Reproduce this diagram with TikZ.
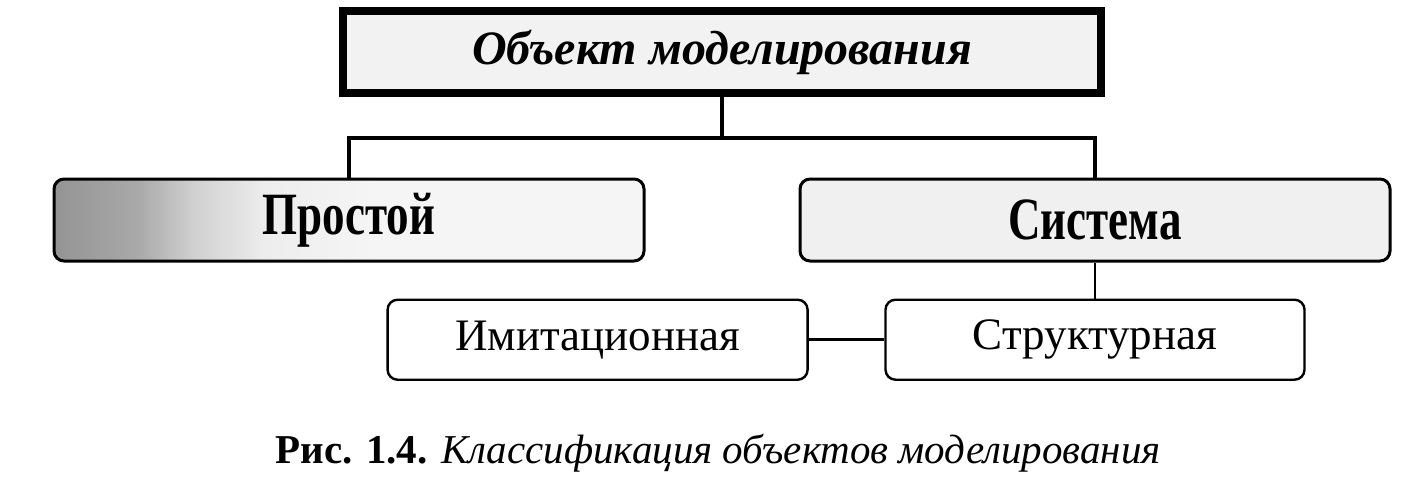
\documentclass[tikz,border=0pt]{standalone}
\usepackage{fontspec}
\setmainfont{Liberation Serif}
\newfontfamily\narrowserif[FakeStretch=0.75]{Liberation Serif}
\usetikzlibrary{positioning}
\pgfdeclarehorizontalshading{simpleshade}{100bp}{color(0bp)=(black!42); color(25bp)=(black!42); color(32bp)=(black!34); color(37bp)=(black!18); color(43bp)=(black!7); color(52bp)=(black!4); color(100bp)=(black!4)}

\begin{document}
\begin{tikzpicture}[x=0.5pt, y=-0.5pt]
	\tikzset{
	  wn/.style={draw, fill=white,
	             shape=rectangle,
	             line width=1.2pt,
	             minimum height=40pt,
	             rounded corners=5pt,
	             font=\fontsize{22.5}{24}\selectfont},
	  kind/.style={wn, line width=1.5pt,
	             minimum width=295pt, minimum height=41pt,
	             font=\fontsize{30}{32}\narrowserif\bfseries},
	  headbox/.style={draw, fill=black!5, shape=rectangle,
	             line width=4pt,
	             minimum width=379pt, minimum height=41pt,
	             font=\fontsize{24}{26}\selectfont\bfseries\itshape},
	  link/.style={line width=2pt}
	}
	\useasboundingbox (0,0) rectangle (1416,494);

	\node [headbox] (object) at (722,52) {Объект моделирования};
	\node [kind, shading=simpleshade] (simple) at (349,220) {Простой};
	\node [kind, fill=black!6, right =76.5pt of simple] (system) {Система};
	\node [wn, minimum width=209.5pt, below =18pt of system] (struct) {Структурная};
	\node [wn, minimum width=210pt, left =37.75pt of struct] (imit) {Имитационная};

	\draw[link] (object.south) -- ++(0,41) coordinate (fork);
	\draw[link] (simple.north) |- (fork) -| (system.north);
	\path[draw] (system) edge[line width=0.7pt] (struct)
	            (imit) edge[line width=1.5pt] (struct);

	\node[anchor=base, font=\fontsize{20.5}{22}\selectfont] (caption) at (718,463)
	  {\textbf{Рис. 1.4.} \textit{Классификация объектов моделирования}};
\end{tikzpicture}
\end{document}
